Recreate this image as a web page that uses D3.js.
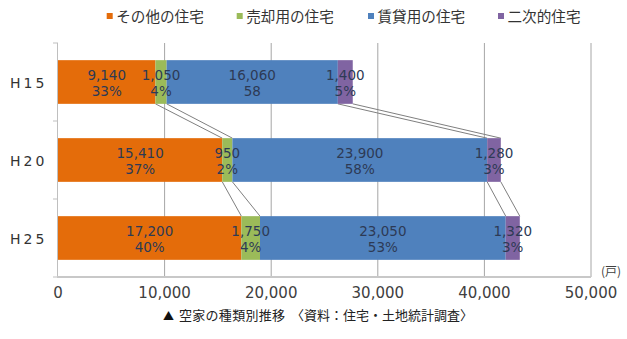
<!DOCTYPE html>
<html><head><meta charset="utf-8">
<script src="https://cdn.jsdelivr.net/npm/d3@7"></script>
<style>
body{margin:0;background:#fff;}
svg{font-family:"Noto Sans CJK JP","Noto Sans",sans-serif;}
</style></head>
<body><svg id="c" width="627" height="339"></svg>
<script>
const categories = ["H15","H20","H25"];
const seriesNames = ["その他の住宅","売却用の住宅","賃貸用の住宅","二次的住宅"];
const otherValues = [9140,15410,17200];
const saleValues = [1050,950,1750];
const rentValues = [16060,23900,23050];
const secondValues = [1400,1280,1320];
const otherPct = ["33%","37%","40%"];
const salePct = ["4%","2%","4%"];
const rentPct = ["58","58%","53%"];
const secondPct = ["5%","3%","3%"];
const xTicks = [0,10000,20000,30000,40000,50000];
const colors = ["#E46C0A","#9BBB59","#4F81BD","#8064A2"];

const values = [otherValues, saleValues, rentValues, secondValues];
const pcts = [otherPct, salePct, rentPct, secondPct];
const rows = categories.map((c,i)=>{const r={cat:c}; seriesNames.forEach((s,j)=>r[s]=values[j][i]); return r;});
const stack = d3.stack().keys(seriesNames)(rows);

const svg = d3.select("#c");
const pL=58, pR=591, pT=43, pB=277;
const numFont="'DejaVu Sans', Verdana, sans-serif";
const x = d3.scaleLinear().domain([0,50000]).range([pL,pR]);
const y = d3.scaleBand().domain(categories).range([pT,pB]).paddingInner(0.44).paddingOuter(0.22);

// gridlines
svg.append("g").selectAll("line").data(xTicks.slice(1)).join("line")
  .attr("x1",d=>x(d)).attr("x2",d=>x(d)).attr("y1",pT).attr("y2",pB)
  .attr("stroke","#a6a6a6").attr("stroke-width",1);

// left axis
svg.append("line").attr("x1",pL-0.5).attr("x2",pL-0.5).attr("y1",pT).attr("y2",pB).attr("stroke","#bfbfbf");
const bounds=[pT, (y("H15")+y.bandwidth()+y("H20"))/2, (y("H20")+y.bandwidth()+y("H25"))/2, pB];
svg.append("g").selectAll("line").data(bounds).join("line")
  .attr("x1",pL-5).attr("x2",pL).attr("y1",d=>d).attr("y2",d=>d).attr("stroke","#bfbfbf");
// bottom axis
svg.append("line").attr("x1",pL-1).attr("x2",pR).attr("y1",pB).attr("y2",pB).attr("stroke","#c8c8c8").attr("stroke-width",2);

// series lines
stack.forEach(s=>{
  for(let i=0;i<categories.length-1;i++){
    const a=s[i], b=s[i+1];
    svg.append("line")
      .attr("x1",x(a[1])).attr("y1",y(categories[i])+y.bandwidth())
      .attr("x2",x(b[1])).attr("y2",y(categories[i+1]))
      .attr("stroke","#7f7f7f").attr("stroke-width",1);
  }
});

// bars
stack.forEach((s,j)=>{
  svg.append("g").selectAll("rect").data(s).join("rect")
    .attr("x",d=>x(d[0])).attr("width",d=>x(d[1])-x(d[0]))
    .attr("y",(d,i)=>y(categories[i])).attr("height",y.bandwidth())
    .attr("fill",colors[j]);
});

// labels
const fmt=d3.format(",");
stack.forEach((s,j)=>{
  s.forEach((d,i)=>{
    const cx=(x(d[0])+x(d[1]))/2, cy=y(categories[i])+y.bandwidth()/2;
    const g=svg.append("g").style("font-family",numFont).attr("fill","#2d3a55").attr("font-size",13.5).attr("text-anchor","middle");
    g.append("text").attr("x",cx).attr("y",cy-2.5).text(fmt(values[j][i]));
    g.append("text").attr("x",cx).attr("y",cy+13.5).text(pcts[j][i]);
  });
});

// category labels
svg.append("g").style("font-family",numFont).selectAll("text").data(categories).join("text")
  .attr("x",10).attr("y",d=>y(d)+y.bandwidth()/2+5.5).attr("font-size",14).attr("fill","#333")
  .attr("letter-spacing","3")
  .text(d=>d);

// x tick labels
svg.append("g").style("font-family",numFont).selectAll("text").data(xTicks).join("text")
  .attr("x",d=>x(d)).attr("y",297.5).attr("text-anchor","middle").attr("font-size",15).attr("fill","#404040")
  .text(d=>fmt(d));
svg.append("text").attr("x",611).attr("y",276).attr("text-anchor","middle").attr("font-size",12).attr("fill","#404040").text("(戸)");

// legend
const legX=[106.7,236.7,368,498];
seriesNames.forEach((s,j)=>{
  svg.append("rect").attr("x",legX[j]).attr("y",13).attr("width",6).attr("height",6).attr("fill",colors[j]);
  svg.append("text").attr("x",legX[j]+9.5).attr("y",21.5).attr("font-size",14.6).attr("fill","#333").text(s);
});

// caption
svg.append("text").attr("x",163).attr("y",320).attr("font-size",11).attr("fill","#111").text("▲");
svg.append("text").attr("x",179).attr("y",320).attr("font-size",13).attr("fill","#222")
  .attr("textLength",106).attr("lengthAdjust","spacing").text("空家の種類別推移");
svg.append("text").attr("x",291).attr("y",320).attr("font-size",13).attr("fill","#222")
  .attr("textLength",182).attr("lengthAdjust","spacing").text("〈資料：住宅・土地統計調査〉");
</script></body></html>
